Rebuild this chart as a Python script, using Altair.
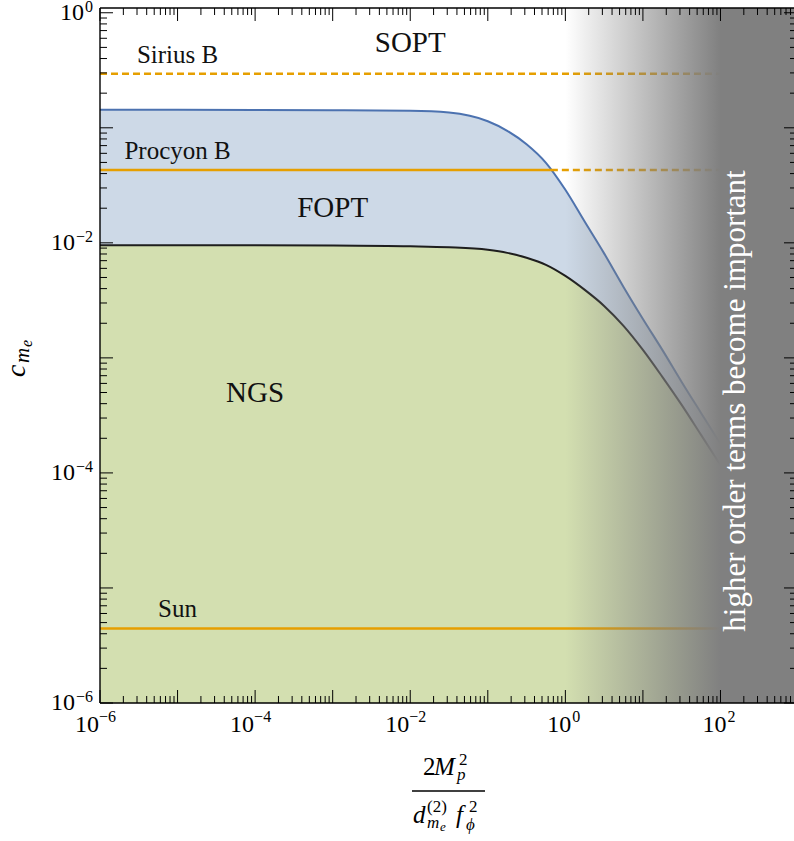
import math

import altair as alt
import pandas as pd

# ---- data -------------------------------------------------------------
# horizontal coordinate: 2 M_p^2 / (d^(2)_{m_e} f_phi^2)
ratio = [1e-6, 1e-5, 1e-4, 1e-3, 1e-2, 0.0316, 0.1, 0.178, 0.316, 0.562,
         1.0, 1.78, 3.16, 5.62, 10.0, 17.8, 31.6, 56.2, 100.0]
# upper edge of the first-order (FOPT) band
fopt_edge = [0.1434, 0.1434, 0.1428, 0.1420, 0.1405, 0.1356, 0.1139, 0.0942,
             0.0719, 0.0496, 0.0289, 0.01523, 0.00810, 0.00414, 0.00218,
             0.001174, 0.000618, 0.000332, 0.000179]
# upper edge of the NGS region
ngs_edge = [0.00951, 0.00951, 0.00951, 0.00947, 0.00932, 0.00914, 0.00869,
            0.00818, 0.00741, 0.00644, 0.00516, 0.00390, 0.00283, 0.00190,
            0.001174, 0.000684, 0.000390, 0.000214, 0.000117]

stars = ["Sirius B", "Procyon B", "Sun"]
star_c = [0.295, 0.043, 4.45e-6]
star_dashed_from = [1e-6, 0.65, 100.0]   # where each star line turns dashed
star_label_x = 1e-5

regions = ["SOPT", "FOPT", "NGS"]
region_x = [1e-2, 1e-3, 1e-4]
region_y = [0.55, 0.02, 5e-4]

x_label_exp = [-6, -4, -2, 0, 2]
y_label_exp = [-6, -4, -2, 0]

X_MIN, X_MAX = 1e-6, 887.0
Y_MIN, Y_MAX = 1e-6, 1.1
LINE_END = 100.0
FADE_START, FADE_END = 1.0, 100.0

# ---- layout / style ---------------------------------------------------
W, H = 694, 695
FONT = "Liberation Serif"
GREEN = "#d3dfb0"
BAND = "#cdd9e7"
BLUE = "#4c72b0"
DARK = "#1e1e1e"
ORANGE = "#e69f00"
GREY = "#808080"

xs = alt.Scale(type="log", domain=[X_MIN, X_MAX], nice=False)
ys = alt.Scale(type="log", domain=[Y_MIN, Y_MAX], nice=False)

curves = pd.DataFrame({"r": ratio, "fopt": fopt_edge, "ngs": ngs_edge})
base = alt.Chart(curves)
X = alt.X("r:Q", scale=xs, axis=None)

ngs_fill = base.mark_area(color=GREEN, interpolate="monotone").encode(
    x=X, y=alt.Y("ngs:Q", scale=ys, axis=None), y2=alt.datum(Y_MIN))
fopt_fill = base.mark_area(color=BAND, interpolate="monotone").encode(
    x=X, y=alt.Y("fopt:Q", scale=ys, axis=None), y2="ngs:Q")
ngs_line = base.mark_line(color=DARK, strokeWidth=2, interpolate="monotone").encode(
    x=X, y=alt.Y("ngs:Q", scale=ys, axis=None))
fopt_line = base.mark_line(color=BLUE, strokeWidth=2, interpolate="monotone").encode(
    x=X, y=alt.Y("fopt:Q", scale=ys, axis=None))

# star lines: solid part then dashed part
seg_rows = []
for name, c, xd in zip(stars, star_c, star_dashed_from):
    if xd > X_MIN:
        seg_rows.append({"star": name, "c": c, "x0": X_MIN, "x1": xd, "dash": 0})
    if xd < LINE_END:
        seg_rows.append({"star": name, "c": c, "x0": xd, "x1": LINE_END, "dash": 1})
segs = pd.DataFrame(seg_rows)
seg_enc = dict(x=alt.X("x0:Q", scale=xs, axis=None), x2="x1:Q",
               y=alt.Y("c:Q", scale=ys, axis=None))
solid = alt.Chart(segs).transform_filter("datum.dash == 0").mark_rule(
    color=ORANGE, strokeWidth=2.5).encode(**seg_enc)
dashed = alt.Chart(segs).transform_filter("datum.dash == 1").mark_rule(
    color=ORANGE, strokeWidth=2.5, strokeDash=[7, 4]).encode(**seg_enc)

# grey shading where higher order terms matter: fades in, then stays solid
fade_stop = math.log(FADE_END / FADE_START) / math.log(X_MAX / FADE_START)
shade = alt.Chart(alt.Data(values=[{"a": FADE_START, "b": X_MAX}])).mark_rect(
    clip=True,
    color=alt.Gradient(
        gradient="linear",
        stops=[alt.GradientStop(color="rgba(128,128,128,0)", offset=0),
               alt.GradientStop(color=GREY, offset=fade_stop),
               alt.GradientStop(color=GREY, offset=1)],
        x1=0, x2=1, y1=0, y2=0),
).encode(x=alt.X("a:Q", scale=xs, axis=None), x2="b:Q",
         y=alt.value(0), y2=alt.value(H))

# ---- frame and inward ticks -------------------------------------------
x_major = [10.0 ** e for e in range(-6, 3)]
x_minor = [k * 10.0 ** e for e in range(-6, 3) for k in range(2, 10)
           if k * 10.0 ** e < X_MAX]
y_major = [10.0 ** e for e in range(-6, 1)]
y_minor = [k * 10.0 ** e for e in range(-6, 0) for k in range(2, 10)]


def x_ticks(vals, length):
    d = alt.Data(values=[{"v": v} for v in vals])
    xe = alt.X("v:Q", scale=xs, axis=None)
    bottom = alt.Chart(d).mark_rule(color="black", strokeWidth=1).encode(
        x=xe, y=alt.value(H), y2=alt.value(H - length))
    top = alt.Chart(d).mark_rule(color="black", strokeWidth=1).encode(
        x=xe, y=alt.value(0), y2=alt.value(length))
    return [bottom, top]


def y_ticks(vals, length):
    d = alt.Data(values=[{"v": v} for v in vals])
    ye = alt.Y("v:Q", scale=ys, axis=None)
    left = alt.Chart(d).mark_rule(color="black", strokeWidth=1).encode(
        y=ye, x=alt.value(0), x2=alt.value(length))
    right = alt.Chart(d).mark_rule(color="black", strokeWidth=1).encode(
        y=ye, x=alt.value(W + 3), x2=alt.value(W + 3 - length))
    return [left, right]


def frame_rule(x, x2, y, y2, width=1.4):
    return alt.Chart(alt.Data(values=[{}])).mark_rule(
        color="black", strokeWidth=width).encode(
        x=alt.value(x), x2=alt.value(x2), y=alt.value(y), y2=alt.value(y2))


frame = [frame_rule(0, W, 0, 0), frame_rule(0, W, H, H), frame_rule(0, 0, 0, H)]
ticks = x_ticks(x_major, 13) + x_ticks(x_minor, 7) + y_ticks(y_major, 13) + y_ticks(y_minor, 7)

# ---- tick labels (10 with a raised exponent) --------------------------
def sup(e):
    return ("\u2212" + str(-e)) if e < 0 else str(e)


x_lab = pd.DataFrame({"v": [10.0 ** e for e in x_label_exp],
                      "s": [sup(e) for e in x_label_exp],
                      "neg": [int(e < 0) for e in x_label_exp]})
y_lab = pd.DataFrame({"v": [10.0 ** e for e in y_label_exp],
                      "s": [sup(e) for e in y_label_exp],
                      "neg": [int(e < 0) for e in y_label_exp]})

tick_labels = []
for neg, dx_base, dx_exp, x_base in [(1, -1, -1, -25), (0, 6, 7, -16)]:
    flt = f"datum.neg == {neg}"
    tick_labels.append(alt.Chart(x_lab).transform_filter(flt).mark_text(
        font=FONT, fontSize=24, align="right", baseline="alphabetic", dx=dx_base,
        text="10").encode(x=alt.X("v:Q", scale=xs, axis=None), y=alt.value(724)))
    tick_labels.append(alt.Chart(x_lab).transform_filter(flt).mark_text(
        font=FONT, fontSize=16, align="left", baseline="alphabetic", dx=dx_exp
    ).encode(x=alt.X("v:Q", scale=xs, axis=None), y=alt.value(714), text="s:N"))
    tick_labels.append(alt.Chart(y_lab).transform_filter(flt).mark_text(
        font=FONT, fontSize=24, align="right", baseline="alphabetic", dy=7,
        text="10").encode(y=alt.Y("v:Q", scale=ys, axis=None), x=alt.value(x_base)))
    tick_labels.append(alt.Chart(y_lab).transform_filter(flt).mark_text(
        font=FONT, fontSize=16, align="right", baseline="alphabetic", dy=-1
    ).encode(y=alt.Y("v:Q", scale=ys, axis=None), x=alt.value(-7), text="s:N"))

# ---- annotations ------------------------------------------------------
star_df = pd.DataFrame({"star": stars, "c": star_c, "lx": [star_label_x] * len(stars)})
star_text = alt.Chart(star_df).mark_text(
    font=FONT, fontSize=25, baseline="middle", dy=-19, color="#111111"
).encode(x=alt.X("lx:Q", scale=xs, axis=None),
         y=alt.Y("c:Q", scale=ys, axis=None), text="star:N")

region_df = pd.DataFrame({"name": regions, "x": region_x, "y": region_y})
region_text = alt.Chart(region_df).mark_text(
    font=FONT, fontSize=29, baseline="middle", color="#111111"
).encode(x=alt.X("x:Q", scale=xs, axis=None),
         y=alt.Y("y:Q", scale=ys, axis=None), text="name:N")


def glyph(text, x, y, size, italic=False, angle=0, align="left", color="black"):
    kw = dict(text=text, font=FONT, fontSize=size, align=align,
              baseline="alphabetic", color=color)
    if italic:
        kw["fontStyle"] = "italic"
    if angle:
        kw["angle"] = angle
    return alt.Chart(alt.Data(values=[{}])).mark_text(**kw).encode(
        x=alt.value(x), y=alt.value(y))


side_note = glyph("higher order terms become important", 645, 393, 31,
                  angle=270, align="center", color="white")

# y title: c_{m_e}
y_title = [
    glyph("c", -75, 369, 28, italic=True, angle=270),
    glyph("m", -71, 355, 21, italic=True, angle=270),
    glyph("e", -68, 339, 16, italic=True, angle=270),
]

# x title: 2 M_p^2 / (d^{(2)}_{m_e} f_phi^2)
x_title = [
    glyph("2", 323, 767, 25),
    glyph("M", 334, 767, 25, italic=True),
    glyph("2", 359, 757, 17),
    glyph("p", 357, 772, 17, italic=True),
    frame_rule(312, 385, 783, 783, 1.3),
    glyph("d", 313, 815, 25, italic=True),
    glyph("(2)", 327, 804, 17),
    glyph("m", 327, 820, 17, italic=True),
    glyph("e", 340, 823, 13, italic=True),
    glyph("f", 356, 815, 25, italic=True),
    glyph("2", 369, 804, 17),
    glyph("\u03d5", 366, 822, 17, italic=True),
]

layers = ([ngs_fill, fopt_fill, ngs_line, fopt_line, solid, dashed, shade]
          + frame + ticks + tick_labels
          + [star_text, region_text, side_note] + y_title + x_title)

chart = alt.layer(*layers).properties(
    width=W, height=H,
    padding={"left": 100, "top": 8, "right": 0, "bottom": 138},
    autosize=alt.AutoSizeParams(type="none"),
    background="white",
).configure_view(strokeWidth=0)

chart.save("out.html", embed_options={"renderer": "svg", "actions": False})
